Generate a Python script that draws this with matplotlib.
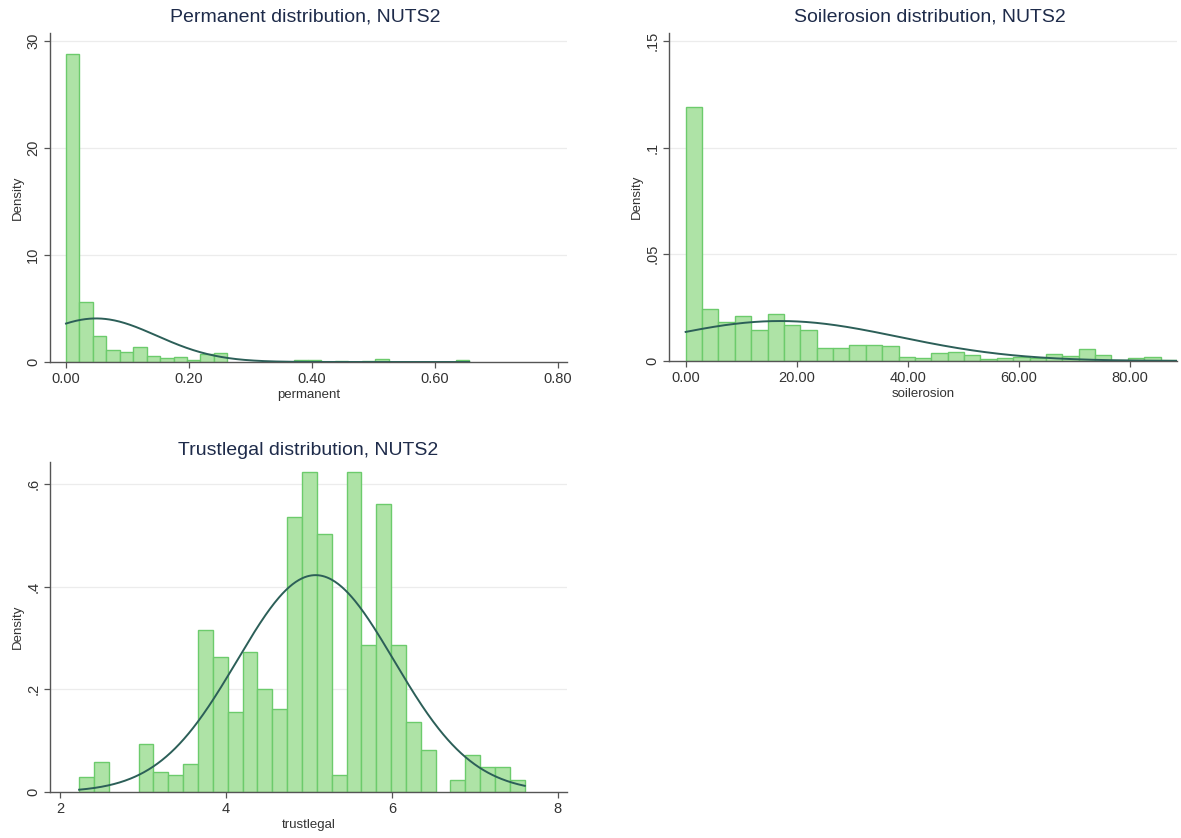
import numpy as np
import matplotlib
matplotlib.use("Agg")
import matplotlib.pyplot as plt

plt.rcParams['font.family'] = ['Liberation Sans', 'DejaVu Sans']

# ---------------- data ----------------
# Panel 1: permanent
perm_start = 0.0
perm_width = 0.02185
perm_heights = [28.75, 5.6, 2.44, 1.16, 0.97, 1.4, 0.58, 0.42, 0.47, 0.22,
                0.72, 0.87, 0, 0, 0, 0, 0, 0.22, 0.22, 0,
                0.06, 0, 0.06, 0.30, 0, 0, 0, 0, 0, 0.15]
perm_mean, perm_sd = 0.049, 0.098
perm_xticks = [0.0, 0.2, 0.4, 0.6, 0.8]
perm_xticklabels = ["0.00", "0.20", "0.40", "0.60", "0.80"]
perm_yticks = [0, 10, 20, 30]
perm_yticklabels = ["0", "10", "20", "30"]

# Panel 2: soilerosion
soil_start = 0.0
soil_width = 2.95
soil_heights = [0.1188, 0.0243, 0.0182, 0.0209, 0.0146, 0.0220, 0.0170, 0.0146, 0.0060, 0.0060,
                0.0076, 0.0073, 0.0068, 0.0021, 0.0013, 0.0039, 0.0041, 0.0028, 0.0008, 0.0016,
                0.0020, 0.0014, 0.0034, 0.0024, 0.0056, 0.0029, 0.0006, 0.0012, 0.0020, 0.0004]
soil_mean, soil_sd = 17.0, 21.3
soil_xticks = [0, 20, 40, 60, 80]
soil_xticklabels = ["0.00", "20.00", "40.00", "60.00", "80.00"]
soil_yticks = [0, 0.05, 0.10, 0.15]
soil_yticklabels = ["0", ".05", ".1", ".15"]

# Panel 3: trustlegal
trust_start = 2.231
trust_width = 0.179
trust_heights = [0.029, 0.058, 0, 0, 0.093, 0.039, 0.034, 0.054, 0.316, 0.263,
                 0.156, 0.273, 0.200, 0.161, 0.535, 0.623, 0.502, 0.034, 0.623, 0.287,
                 0.560, 0.287, 0.136, 0.082, 0, 0.024, 0.073, 0.049, 0.049, 0.024]
trust_mean, trust_sd = 5.08, 0.945
trust_xticks = [2, 4, 6, 8]
trust_xticklabels = ["2", "4", "6", "8"]
trust_yticks = [0, 0.2, 0.4, 0.6]
trust_yticklabels = ["0", ".2", ".4", ".6"]

# ---------------- style ----------------
W, H = 1181, 838
BAR_FACE = "#aee3a6"
BAR_EDGE = "#6ccb6c"
CURVE = "#2c5f58"
TITLE_C = "#1e2b4a"
AX_C = "#555555"
GRID_C = "#ececec"

fig = plt.figure(figsize=(W / 100, H / 100), dpi=100)
fig.patch.set_facecolor("white")


def px_axes(left, top, right, bottom):
    return fig.add_axes([left / W, 1 - bottom / H, (right - left) / W, (bottom - top) / H])


def panel(ax, start, width, heights, mean, sd, xlim, ylim, xticks, xtl, yticks, ytl,
          xlabel, title, title_x, title_y):
    heights = np.asarray(heights, dtype=float)
    edges = start + width * np.arange(len(heights))
    ax.set_axisbelow(True)
    for y in yticks[1:]:
        ax.axhline(y, color=GRID_C, lw=0.9, zorder=0)
    mask = heights > 0
    ax.bar(edges[mask], heights[mask], width=width, align="edge",
           facecolor=BAR_FACE, edgecolor=BAR_EDGE, linewidth=1.0, zorder=2)
    xs = np.linspace(start, start + width * len(heights), 400)
    ys = np.exp(-0.5 * ((xs - mean) / sd) ** 2) / (sd * np.sqrt(2 * np.pi))
    ax.plot(xs, ys, color=CURVE, lw=1.4, zorder=3)
    ax.set_xlim(*xlim)
    ax.set_ylim(*ylim)
    ax.set_xticks(xticks)
    ax.set_xticklabels(xtl, fontsize=10.5, color="#333333")
    ax.set_yticks(yticks)
    ax.set_yticklabels(ytl, fontsize=10.5, color="#333333", rotation=90, va="center")
    for s in ("top", "right"):
        ax.spines[s].set_visible(False)
    for s in ("left", "bottom"):
        ax.spines[s].set_color(AX_C)
        ax.spines[s].set_linewidth(1.0)
    ax.tick_params(axis="both", direction="out", length=4, width=0.9, color=AX_C, pad=3)
    ax.set_xlabel(xlabel, fontsize=9.5, color="#333333", labelpad=2)
    ax.set_ylabel("Density", fontsize=9.5, color="#333333", labelpad=2)
    fig.text(title_x / W, 1 - title_y / H, title, ha="center", va="center",
             fontsize=14, color=TITLE_C)


ax1 = px_axes(50, 33, 567, 362)
panel(ax1, perm_start, perm_width, perm_heights, perm_mean, perm_sd,
      (-0.026, 0.8145), (0, 30.75), perm_xticks, perm_xticklabels,
      perm_yticks, perm_yticklabels, "permanent",
      "Permanent distribution, NUTS2", 305, 17)

ax2 = px_axes(669, 33, 1177, 361)
panel(ax2, soil_start, soil_width, soil_heights, soil_mean, soil_sd,
      (-3.0, 88.5), (0, 0.1537), soil_xticks, soil_xticklabels,
      soil_yticks, soil_yticklabels, "soilerosion",
      "Soilerosion distribution, NUTS2", 930, 17)

ax3 = px_axes(50, 462, 567, 792)
panel(ax3, trust_start, trust_width, trust_heights, trust_mean, trust_sd,
      (1.88, 8.11), (0, 0.6424), trust_xticks, trust_xticklabels,
      trust_yticks, trust_yticklabels, "trustlegal",
      "Trustlegal distribution, NUTS2", 308, 450)

fig.savefig("out.png", dpi=100, facecolor="white")
